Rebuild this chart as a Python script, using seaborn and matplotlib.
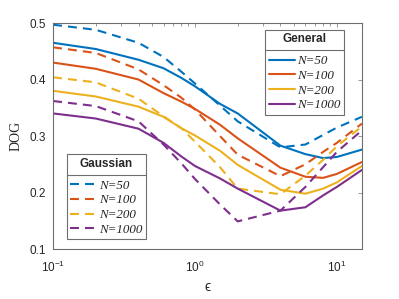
import numpy as np
import pandas as pd
import matplotlib
matplotlib.use("Agg")
import matplotlib.pyplot as plt
from matplotlib.lines import Line2D
import seaborn as sns

# ── Data ──────────────────────────────────────────────────────────────────────
eps = [0.1, 0.2, 0.4, 0.6, 0.8, 1, 1.5, 2, 4, 6, 8, 10, 15]
n_labels = ["N=50", "N=100", "N=200", "N=1000"]

general_50   = [0.465, 0.454, 0.435, 0.420, 0.403, 0.388, 0.357, 0.340, 0.283, 0.268, 0.261, 0.263, 0.276]
general_100  = [0.430, 0.419, 0.400, 0.376, 0.361, 0.348, 0.320, 0.296, 0.244, 0.228, 0.226, 0.233, 0.254]
general_200  = [0.380, 0.370, 0.352, 0.334, 0.314, 0.301, 0.274, 0.249, 0.205, 0.198, 0.207, 0.218, 0.247]
general_1000 = [0.340, 0.331, 0.313, 0.288, 0.264, 0.247, 0.225, 0.207, 0.168, 0.174, 0.195, 0.210, 0.240]

gauss_50   = [0.497, 0.488, 0.465, 0.440, 0.414, 0.393, 0.354, 0.326, 0.280, 0.285, 0.302, 0.315, 0.334]
gauss_100  = [0.457, 0.447, 0.418, 0.390, 0.368, 0.347, 0.300, 0.267, 0.229, 0.250, 0.272, 0.288, 0.322]
gauss_200  = [0.404, 0.395, 0.366, 0.335, 0.314, 0.290, 0.245, 0.207, 0.197, 0.230, 0.258, 0.282, 0.317]
gauss_1000 = [0.362, 0.353, 0.326, 0.285, 0.252, 0.224, 0.179, 0.149, 0.168, 0.210, 0.245, 0.272, 0.310]

colors = ["#0072BD", "#D95319", "#EDB120", "#7E2F8E"]
dash = (4.3, 2.9)

# ── Long table for seaborn ────────────────────────────────────────────────────
rows = []
for model, series in [("General", [general_50, general_100, general_200, general_1000]),
                      ("Gaussian", [gauss_50, gauss_100, gauss_200, gauss_1000])]:
    for lab, vals in zip(n_labels, series):
        for e, v in zip(eps, vals):
            rows.append({"eps": e, "dog": v, "N": lab, "model": model})
df = pd.DataFrame(rows)

sns.set_theme(style="white")
plt.rcParams["font.family"] = ["Liberation Sans", "DejaVu Sans"]
plt.rcParams["mathtext.fontset"] = "custom"
plt.rcParams["mathtext.rm"] = "Liberation Sans"
plt.rcParams["mathtext.it"] = "Liberation Sans:italic"

fig = plt.figure(figsize=(3.99, 2.99), dpi=100)
ax = fig.add_axes([0.133, 0.167, 0.774, 0.756])

sns.lineplot(data=df, x="eps", y="dog", hue="N", style="model",
             hue_order=n_labels, palette=dict(zip(n_labels, colors)),
             dashes={"General": "", "Gaussian": dash},
             errorbar=None, legend=False, linewidth=1.5, ax=ax)

ax.set_xscale("log")
ax.set_xlim(0.1, 15)
ax.set_ylim(0.1, 0.5)
ax.set_yticks([0.1, 0.2, 0.3, 0.4, 0.5])
ax.set_yticklabels(["0.1", "0.2", "0.3", "0.4", "0.5"])

axis_col = "#6e6e6e"
for sp in ax.spines.values():
    sp.set_color(axis_col)
    sp.set_linewidth(0.8)
ax.tick_params(which="both", direction="in", top=True, right=True,
               color=axis_col, width=0.5, labelsize=8.5, labelcolor="#262626")
ax.tick_params(which="major", length=3)
ax.tick_params(which="minor", length=2.5)
ax.tick_params(axis="x", which="major", pad=8)
ax.tick_params(axis="y", which="major", pad=5)

ax.set_xlabel("\u03f5", fontsize=10, color="#262626",
              family=["Liberation Sans", "DejaVu Sans"], labelpad=3)
ax.set_ylabel("DOG", fontsize=10, color="#262626", family="Liberation Serif", labelpad=5)

# ── Two legends ───────────────────────────────────────────────────────────────
label_font = {"family": "Liberation Serif", "style": "italic", "size": 9.4}
title_font = {"family": "Liberation Sans", "weight": "bold", "size": 8.5}

def make_legend(title, ls, loc, anchor):
    handles = [Line2D([], [], color=c, lw=1.5, linestyle=ls) for c in colors]
    leg = ax.legend(handles, n_labels, title=title, loc=loc, bbox_to_anchor=anchor,
                    prop=label_font, title_fontproperties=title_font,
                    frameon=True, fancybox=False, framealpha=1, edgecolor=axis_col,
                    borderaxespad=0, borderpad=0.25, labelspacing=0.2,
                    handlelength=2.0, handletextpad=0.2)
    leg.get_frame().set_linewidth(0.8)
    leg._legend_box.sep = 7
    return leg

leg_gen = make_legend("General", "-", "upper right", (0.942, 0.969))
ax.add_artist(leg_gen)
leg_gau = make_legend("Gaussian", (0, dash), "lower left", (0.045, 0.044))

# separator line under each legend title
fig.canvas.draw()
renderer = fig.canvas.get_renderer()
W, H = fig.bbox.width, fig.bbox.height
for leg in (leg_gen, leg_gau):
    tb = leg.get_title().get_window_extent(renderer)
    hb = leg._legend_handle_box.get_window_extent(renderer)
    fb = leg.get_frame().get_window_extent(renderer)
    y = (tb.y0 + hb.y1) / 2
    fig.add_artist(Line2D([fb.x0 / W, fb.x1 / W], [y / H, y / H],
                          transform=fig.transFigure, color=axis_col, lw=0.8))

fig.savefig("out.png", dpi=100)
plt.close(fig)
